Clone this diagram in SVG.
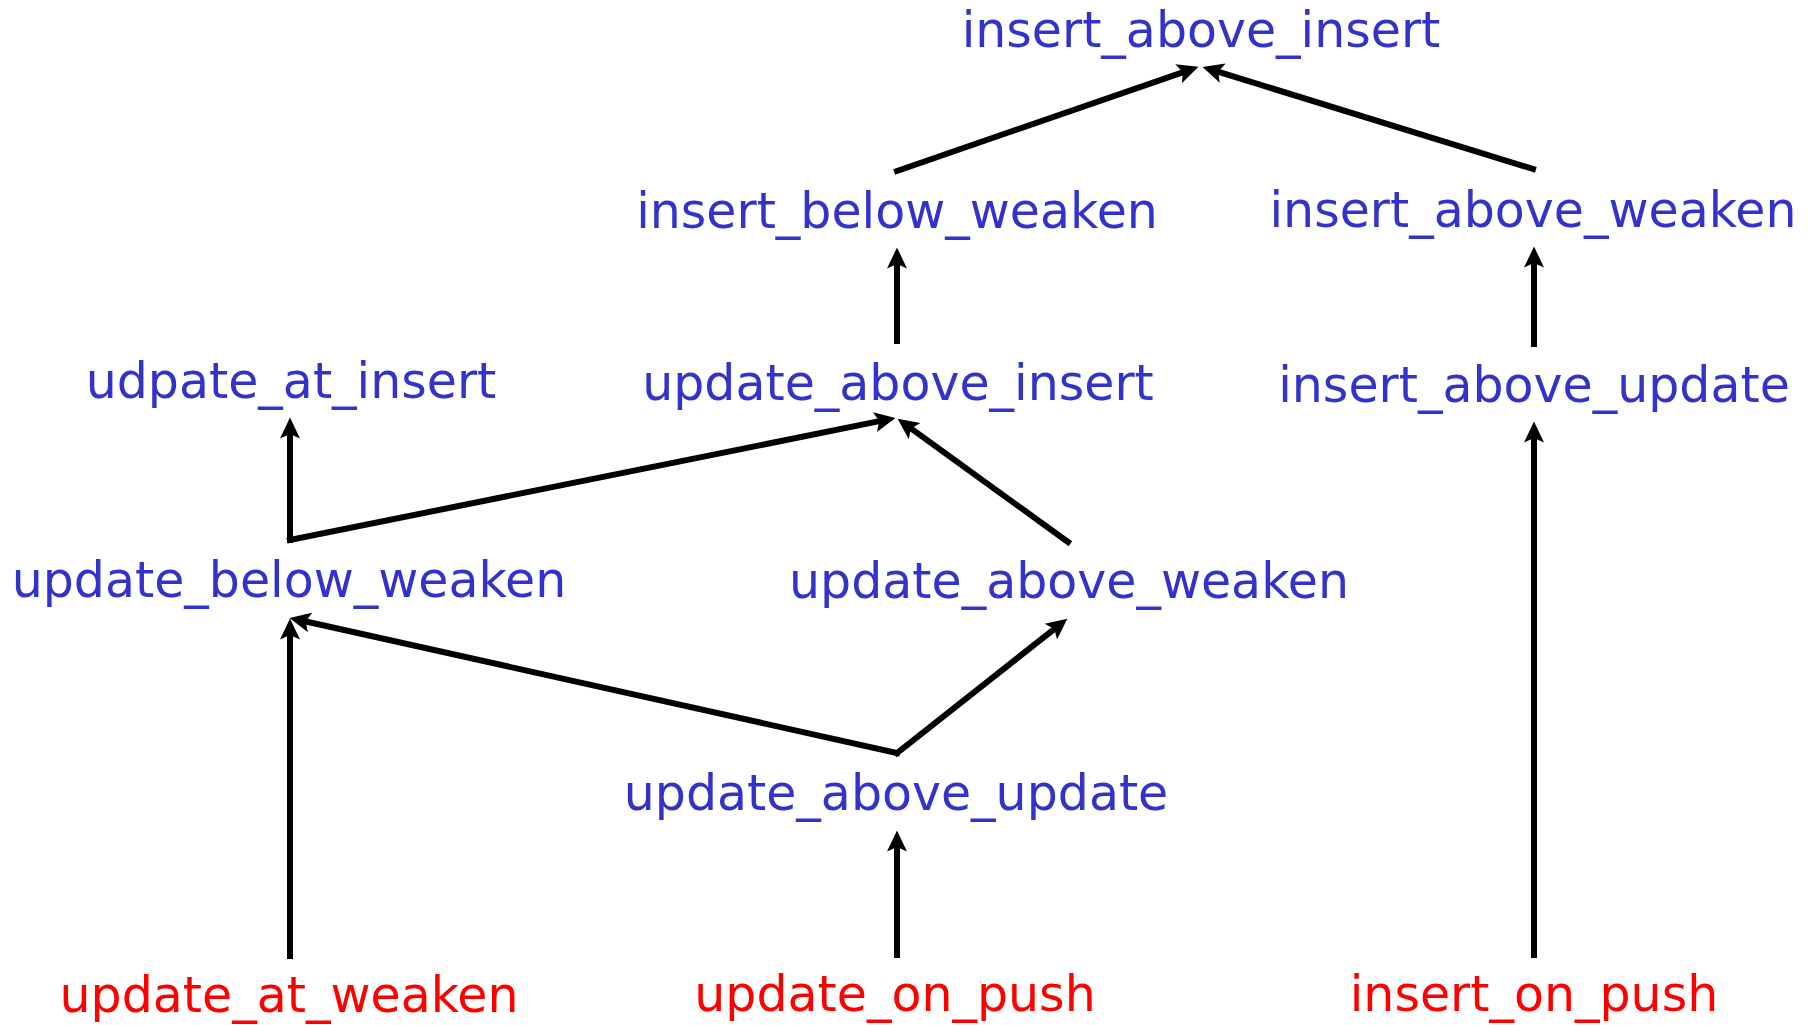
<svg xmlns="http://www.w3.org/2000/svg" width="1814" height="1025" viewBox="0 0 1814 1025">
  <style>
    .lbl { font-family: "DejaVu Sans", Verdana, sans-serif; font-size: 49px; text-anchor: middle; }
    .mid { fill: #3333cc; }
    .src { fill: #ff0000; }
    .edge { stroke: #000; stroke-width: 6; stroke-linecap: square; fill: none; marker-end: url(#head); }
  </style>
  <defs>
    <marker id="head" markerUnits="userSpaceOnUse" viewBox="0 -11 22 22" markerWidth="22" markerHeight="22" refX="10.5" refY="0" orient="auto">
      <path d="M0,-10 L21,0 L0,10 L4.5,0 Z" fill="#000"/>
    </marker>
  </defs>
  <rect width="1814" height="1025" fill="#fff"/>

  <!-- connectors: each line ends inside its arrowhead -->
  <g id="connectors">
    <line class="edge" x1="897" y1="171" x2="1188.5" y2="70.3"/>
    <line class="edge" x1="1533" y1="169" x2="1212.6" y2="70"/>
    <line class="edge" x1="897" y1="341" x2="897" y2="258"/>
    <line class="edge" x1="1534" y1="344" x2="1534" y2="257"/>
    <line class="edge" x1="290" y1="540" x2="290" y2="428"/>
    <line class="edge" x1="290" y1="540" x2="885.2" y2="420"/>
    <line class="edge" x1="1068" y1="542" x2="906.1" y2="424.9"/>
    <line class="edge" x1="897" y1="753" x2="1059.1" y2="625.2"/>
    <line class="edge" x1="897" y1="753" x2="299.8" y2="620.2"/>
    <line class="edge" x1="290" y1="956" x2="290" y2="629"/>
    <line class="edge" x1="897" y1="955" x2="897" y2="841"/>
    <line class="edge" x1="1534" y1="955" x2="1534" y2="432"/>
  </g>

  <g id="insert_above_insert"><text class="lbl mid" x="1201" y="47">insert_above_insert</text></g>
  <g id="insert_below_weaken"><text class="lbl mid" x="897" y="228">insert_below_weaken</text></g>
  <g id="insert_above_weaken"><text class="lbl mid" x="1533" y="227">insert_above_weaken</text></g>
  <g id="udpate_at_insert"><text class="lbl mid" x="291" y="398">udpate_at_insert</text></g>
  <g id="update_above_insert"><text class="lbl mid" x="898" y="400">update_above_insert</text></g>
  <g id="insert_above_update"><text class="lbl mid" x="1534" y="402">insert_above_update</text></g>
  <g id="update_below_weaken"><text class="lbl mid" x="289" y="597">update_below_weaken</text></g>
  <g id="update_above_weaken"><text class="lbl mid" x="1069" y="598">update_above_weaken</text></g>
  <g id="update_above_update"><text class="lbl mid" x="896" y="810">update_above_update</text></g>
  <g id="update_at_weaken"><text class="lbl src" x="289" y="1012">update_at_weaken</text></g>
  <g id="update_on_push"><text class="lbl src" x="895" y="1011">update_on_push</text></g>
  <g id="insert_on_push"><text class="lbl src" x="1534" y="1011">insert_on_push</text></g>
</svg>
